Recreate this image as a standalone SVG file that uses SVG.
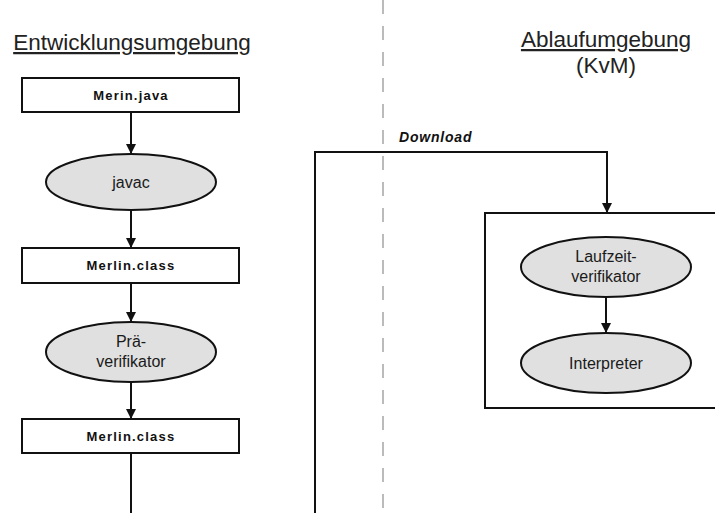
<svg xmlns="http://www.w3.org/2000/svg" width="715" height="513" viewBox="0 0 715 513">
<defs>
<marker id="arr" viewBox="0 0 10 10" refX="10" refY="5" markerWidth="10" markerHeight="10" markerUnits="userSpaceOnUse" orient="auto">
<path d="M0,0 L10,5 L0,10 z" fill="#111"/>
</marker>
<style>
.box{fill:#fff;stroke:#111;stroke-width:2}
.frame{fill:none;stroke:#111;stroke-width:2}
.ell{fill:#e0e0e0;stroke:#111;stroke-width:2}
.bl{font-family:"Liberation Sans",Arial,sans-serif;font-weight:bold;font-size:13px;fill:#111;text-anchor:middle;letter-spacing:1.2px}
.el{font-family:"Liberation Sans",Arial,sans-serif;font-size:16px;fill:#1a1a1a;text-anchor:middle}
.title{font-family:"Liberation Sans",Arial,sans-serif;font-size:22.5px;fill:#222;text-anchor:middle}
.con{fill:none;stroke:#111;stroke-width:2}
</style>
</defs>
<rect width="715" height="513" fill="#fff"/>
<line x1="383" y1="0" x2="383" y2="513" stroke="#bbb" stroke-width="2" stroke-dasharray="14,12"/>
<g id="title-left">
<text class="title" x="132" y="50" text-decoration="underline">Entwicklungsumgebung</text>
</g>
<g id="title-right">
<text class="title" x="606" y="47" text-decoration="underline">Ablaufumgebung</text>
<text class="title" x="606" y="73">(KvM)</text>
</g>
<g id="n-merin-java">
<rect class="box" x="22" y="78" width="217" height="34"/>
<text class="bl" x="131" y="100">Merin.java</text>
</g>
<g id="n-javac">
<ellipse class="ell" cx="131" cy="182" rx="85" ry="28"/>
<text class="el" x="131" y="188">javac</text>
</g>
<g id="n-merlin-class-1">
<rect class="box" x="22" y="248" width="217" height="35"/>
<text class="bl" x="131" y="270">Merlin.class</text>
</g>
<g id="n-praeverifikator">
<ellipse class="ell" cx="131" cy="352" rx="85" ry="30"/>
<text class="el" x="131" y="347">Prä-</text>
<text class="el" x="131" y="367">verifikator</text>
</g>
<g id="n-merlin-class-2">
<rect class="box" x="22" y="419" width="217" height="34"/>
<text class="bl" x="131" y="441">Merlin.class</text>
</g>
<g id="n-kvm">
<rect class="frame" x="485" y="213" width="240" height="195"/>
</g>
<g id="n-laufzeitverifikator">
<ellipse class="ell" cx="606" cy="267" rx="85" ry="30"/>
<text class="el" x="606" y="262">Laufzeit-</text>
<text class="el" x="606" y="282">verifikator</text>
</g>
<g id="n-interpreter">
<ellipse class="ell" cx="606" cy="363" rx="85" ry="30"/>
<text class="el" x="606" y="369">Interpreter</text>
</g>
<g id="connectors">
<line class="con" x1="131" y1="112" x2="131" y2="154" marker-end="url(#arr)"/>
<line class="con" x1="131" y1="210" x2="131" y2="248" marker-end="url(#arr)"/>
<line class="con" x1="131" y1="283" x2="131" y2="322" marker-end="url(#arr)"/>
<line class="con" x1="131" y1="382" x2="131" y2="419" marker-end="url(#arr)"/>
<line class="con" x1="131" y1="453" x2="131" y2="513"/>
<polyline class="con" points="315,513 315,152 607,152 607,213" marker-end="url(#arr)"/>
<line class="con" x1="606" y1="297" x2="606" y2="333" marker-end="url(#arr)"/>
<text x="399" y="142" font-family="Liberation Sans,Arial,sans-serif" font-size="14" font-weight="bold" font-style="italic" letter-spacing="0.8" fill="#111">Download</text>
</g>
</svg>
